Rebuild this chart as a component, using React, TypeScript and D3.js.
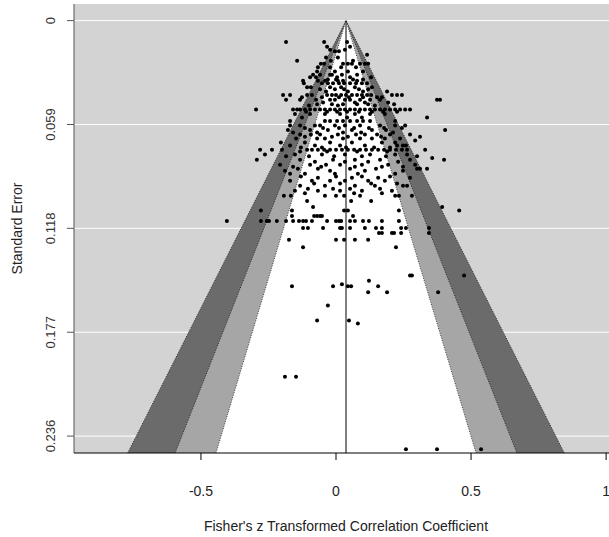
import React from "react";
import * as d3 from "d3";

// standard error of each row of studies, and the effect sizes (Fisher's z) on that row
const seLevels = [
  0.0122, 0.0148, 0.0165, 0.0174, 0.0194, 0.021, 0.0228, 0.0245, 0.0265, 0.0289,
  0.0308, 0.0322, 0.0342, 0.0356, 0.0379, 0.0402, 0.0422, 0.045, 0.0465, 0.0482,
  0.0505, 0.053, 0.055, 0.057, 0.0596, 0.0622, 0.0647, 0.0659, 0.067, 0.0681,
  0.0693, 0.071, 0.0733, 0.0744, 0.0761, 0.078, 0.079, 0.0802, 0.0818, 0.0841,
  0.0853, 0.087, 0.0893, 0.091, 0.0938, 0.0955, 0.0967, 0.0995, 0.1024, 0.1058,
  0.1078, 0.111, 0.1138, 0.1178, 0.1207, 0.1244, 0.1287, 0.1448, 0.1478, 0.1498,
  0.1509, 0.1543, 0.1618, 0.1703, 0.172, 0.2023, 0.2434,
  0.0335, 0.039, 0.0435, 0.0475, 0.0518, 0.061, 0.0635, 0.072, 0.077, 0.083,
  0.0885, 0.0925, 0.098,
];

const effects = [
  [-0.185, -0.044, 0.041],
  [-0.033, 0.052],
  [-0.022, 0.033],
  [-0.004, 0.011],
  [0.115],
  [0.007, -0.037],
  [-0.144, -0.019, 0.063],
  [-0.056, -0.044, 0.026, 0.044, 0.059, 0.089, 0.107, 0.119],
  [-0.067, -0.022, 0.019, 0.074],
  [-0.07, -0.004, 0.044, 0.1],
  [-0.085, -0.059, -0.022, 0.022, 0.078, -0.015],
  [-0.096, -0.074, 0.052, 0.13, 0.004],
  [-0.122, -0.067, 0.007, 0.026, 0.078, -0.041],
  [-0.119, -0.052, -0.03, -0.011, 0.011, 0.03, 0.052, 0.074, 0.096, 0.115],
  [-0.107, -0.093, -0.022, 0.019, 0.07, 0.133],
  [0.189, -0.037, 0.044, 0.1],
  [-0.196, -0.17, -0.107, -0.089, -0.033, -0.015, 0, 0.019, 0.037, 0.059, 0.078, 0.096, 0.115, 0.13, 0.207, 0.226, 0.244],
  [-0.185, -0.133, -0.074, -0.022, -0.004, 0.033, 0.052, 0.089, 0.126, 0.163, 0.374, 0.385],
  [0.193, -0.048, 0.07, 0.107],
  [-0.1, 0.007, 0.144],
  [-0.296, -0.159, -0.144, -0.133, -0.115, -0.096, -0.078, -0.059, -0.041, -0.022, -0.004, 0.015, 0.033, 0.052, 0.07, 0.089, 0.107, 0.126, 0.144, 0.163, 0.181, 0.2, 0.219, 0.237, 0.256, 0.274],
  [-0.152, -0.096, -0.041, 0.015, 0.07, 0.126, 0.181],
  [0.337, -0.126, 0.041, 0.096],
  [-0.041, -0.022, 0.004, 0.026, 0.052, 0.078, 0.1, 0.126, -0.17, 0.219],
  [-0.17, -0.133, -0.078, -0.059, -0.004, 0.033, 0.089, 0.163, 0.219, 0.256],
  [-0.178, 0.404, -0.096, -0.03, 0.059, 0.133, 0.185],
  [-0.133, -0.093, -0.059, 0.007, 0.074, 0.107, 0.152, 0.2, 0.274],
  [-0.115, -0.015, 0.044, 0.167, 0.311],
  [-0.148, -0.07, -0.041, 0.026, 0.089, 0.133, 0.181, 0.237],
  [0.293],
  [-0.204, -0.115, -0.022, 0.059, 0.17, 0.219],
  [0.226, 0.248, 0.259, -0.17, -0.078, 0.015, 0.107],
  [-0.107, -0.089, -0.067, -0.044, -0.022, 0, 0.022, 0.044, 0.067, 0.089, 0.111, 0.133, 0.156, 0.178, 0.2, 0.222, 0.244, 0.263, -0.281, -0.2, -0.237, 0.33],
  [-0.133, -0.033, 0.078, 0.189],
  [-0.263, -0.152, -0.052, 0.033, 0.126, 0.219, 0.263],
  [0.356],
  [-0.293, -0.133, -0.011, 0.07, 0.163, 0.274, 0.4],
  [-0.078, 0.033, 0.119, 0.23],
  [-0.207, -0.096, -0.037, 0.015, 0.096, 0.193, 0.293],
  [0.3, 0.311, 0.337, -0.141, -0.067, 0.052, 0.148],
  [-0.022, 0.107, 0.248, -0.189],
  [-0.115, -0.004, 0.081, 0.219, -0.17],
  [-0.067, 0.059, 0.156, 0.274],
  [-0.17, -0.089, -0.022, 0.033, 0.119, 0.181],
  [0.248, 0.263, -0.133, -0.041, 0.07, 0.144],
  [-0.104, -0.011, 0.052, 0.163],
  [-0.152, -0.067, 0.015, 0.096, 0.207],
  [-0.193, -0.167, -0.041, 0, 0.03, 0.089, 0.219, 0.233, 0.281],
  [-0.107, 0.056, 0.13],
  [-0.085, 0.393],
  [-0.278, -0.163, 0.03, 0.044, 0.233, 0.456],
  [-0.163, -0.081, -0.07, -0.059, -0.052, 0.063],
  [-0.404, -0.278, -0.256, -0.248, -0.219, -0.185, -0.159, -0.137, -0.122, -0.111, -0.089, -0.033, 0, 0.011, 0.019, 0.052, 0.07, 0.1, 0.122, 0.17, 0.233],
  [-0.122, -0.104, -0.048, 0.015, 0.022, 0.052, 0.107, 0.148, 0.17, 0.241, 0.259, 0.344],
  [0.159, 0.17, 0.207, 0.215, 0.241, 0.344],
  [-0.174, 0, 0.03, 0.07, 0.119],
  [-0.122, 0.222],
  [0.274, 0.281, 0.474],
  [0.122],
  [0.022],
  [-0.163, -0.011, 0.044, 0.056, 0.156],
  [0.119, 0.189, 0.378],
  [-0.03],
  [-0.07, 0.048],
  [0.081],
  [-0.189, -0.148],
  [0.259, 0.374, 0.537],
  [-0.03, 0.0, 0.063, 0.1],
  [-0.059, -0.004, 0.03, 0.085, 0.119],
  [-0.126, -0.052, 0.011, 0.048, 0.1, 0.152, 0.17],
  [-0.07, -0.015, 0.026, 0.078, 0.119, 0.215],
  [-0.111, -0.033, 0.004, 0.041, 0.085, 0.133, 0.174, 0.226],
  [-0.115, -0.048, 0.011, 0.067, 0.122, 0.178, 0.244],
  [-0.159, -0.07, 0.026, 0.093, 0.211],
  [-0.13, -0.052, 0.037, 0.141, 0.2],
  [-0.185, -0.1, -0.007, 0.096, 0.185, 0.3],
  [-0.159, -0.055, 0.07, 0.17, 0.248],
  [-0.13, 0.0, 0.096, 0.2],
  [-0.081, 0.015, 0.13, 0.226],
  [-0.115, 0.067, 0.17],
];

const estimate = 0.037;
const contourZ = [3.291, 2.576, 1.96]; // 99.9%, 99%, 95%
const contourFill = ["#6b6b6b", "#a6a6a6", "#ffffff"];
const yTickValues = [0, 0.059, 0.118, 0.177, 0.236];
const yTickLabels = ["0", "0.059", "0.118", "0.177", "0.236"];
const xTickValues = [-0.5, 0, 0.5, 1];
const xTickLabels = ["-0.5", "0", "0.5", "1"];

const W = 609, H = 537;
const left = 74, right = 618, top = 4, bottom = 453;
const font = "'Liberation Sans', Arial, sans-serif";

export default function App() {
  const x = d3.scaleLinear().domain([-0.97, 1.044]).range([left, right]);
  const y = d3.scaleLinear().domain([-0.00944, 0.2456]).range([top, bottom]);
  const seMax = y.domain()[1];

  const points = seLevels.flatMap((se, i) => effects[i].map(v => ({ v, se })));

  const line = d3.line<[number, number]>().x(d => x(d[0])).y(d => y(d[1]));
  const funnelPts = (z: number): [number, number][] => [
    [estimate - z * seMax, seMax],
    [estimate, 0],
    [estimate + z * seMax, seMax],
  ];

  return (
    <svg width={W} height={H} style={{ position: "absolute", left: 0, top: 0, background: "#fff" }}>
      <defs>
        <clipPath id="plot">
          <rect x={left} y={top} width={right - left} height={bottom - top} />
        </clipPath>
      </defs>
      <rect x={left} y={top} width={right - left} height={bottom - top} fill="#d3d3d3" />
      {yTickValues.map(t => (
        <line key={t} x1={left} x2={right} y1={y(t)} y2={y(t)} stroke="#fff" strokeWidth={1} />
      ))}
      <g clipPath="url(#plot)">
        {contourZ.map((z, i) => (
          <g key={z}>
            <path d={line(funnelPts(z)) + "Z"} fill={contourFill[i]} />
            <path d={line(funnelPts(z)) ?? ""} fill="none" stroke="#000" strokeWidth={0.7} strokeDasharray="1,1.5" />
          </g>
        ))}
        <line x1={x(estimate)} x2={x(estimate)} y1={y(0)} y2={bottom} stroke="#000" strokeWidth={1} />
        {points.map((p, i) => (
          <circle key={i} cx={x(p.v)} cy={y(p.se)} r={2} fill="#000" />
        ))}
      </g>
      {/* axes */}
      <line x1={left} x2={left} y1={top} y2={bottom} stroke="#555" strokeWidth={1} />
      <line x1={left} x2={right} y1={bottom} y2={bottom} stroke="#000" strokeWidth={1} />
      {yTickValues.map((t, i) => (
        <g key={t} transform={`translate(${left},${y(t)})`}>
          <line x1={-7} x2={0} stroke="#555" />
          <text
            transform="translate(-19,0) rotate(-90)"
            textAnchor="middle"
            fontFamily={font}
            fontSize={13}
            fill="#333"
          >
            {yTickLabels[i]}
          </text>
        </g>
      ))}
      {xTickValues.map((t, i) => (
        <g key={t} transform={`translate(${x(t)},${bottom})`}>
          <line y1={0} y2={7} stroke="#000" />
          <text y={43} textAnchor="middle" fontFamily={font} fontSize={14} fill="#222">
            {xTickLabels[i]}
          </text>
        </g>
      ))}
      <text
        transform={`translate(22,${(top + bottom) / 2}) rotate(-90)`}
        textAnchor="middle"
        fontFamily={font}
        fontSize={14}
        fill="#222"
      >
        Standard Error
      </text>
      <text x={(left + right) / 2} y={531} textAnchor="middle" fontFamily={font} fontSize={14} fill="#222">
        Fisher's z Transformed Correlation Coefficient
      </text>
    </svg>
  );
}
